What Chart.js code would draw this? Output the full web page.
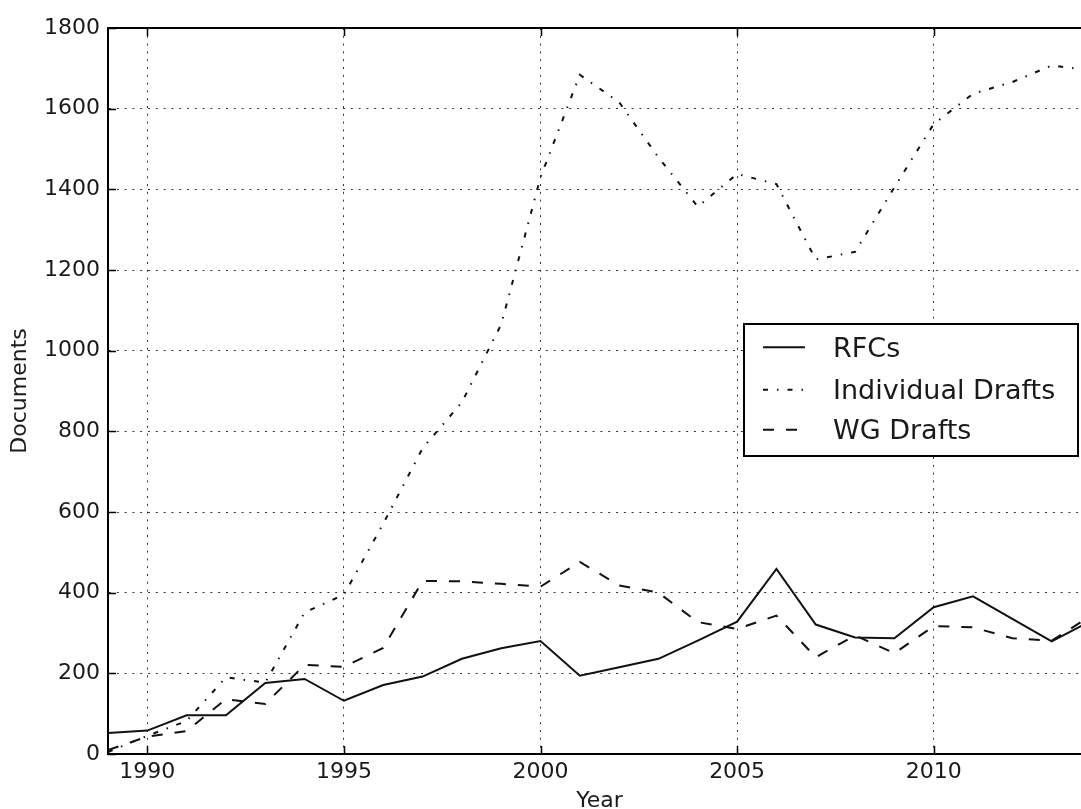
<!DOCTYPE html>
<html><head><meta charset="utf-8">
<script src="https://cdn.jsdelivr.net/npm/chart.js@4.4.0/dist/chart.umd.min.js"></script>
<style>
html,body{margin:0;padding:0;overflow:hidden;background:#fff;width:1081px;height:809px}
#wrap{position:absolute;left:0;top:0;width:1100px;height:809px}
</style></head>
<body><div id="wrap"><canvas id="c" width="1100" height="809"></canvas></div>
<script>
const years = [1989,1990,1991,1992,1993,1994,1995,1996,1997,1998,1999,2000,2001,2002,2003,2004,2005,2006,2007,2008,2009,2010,2011,2012,2013,2014];
const rfcs = [52,58,96,96,176,186,132,171,192,236,262,280,194,215,236,281,328,459,321,289,287,364,391,335,279,330];
const individualDrafts = [5,45,82,190,177,351,395,571,758,872,1065,1430,1684,1616,1479,1357,1438,1413,1226,1245,1405,1562,1637,1666,1707,1695];
const wgDrafts = [10,43,57,136,124,221,216,263,429,428,422,415,476,418,400,327,310,343,240,294,250,317,314,287,281,343];
const xTicks = [1990,1995,2000,2005,2010];
const yTicks = [0,200,400,600,800,1000,1200,1400,1600,1800];
const seriesNames = ['RFCs','Individual Drafts','WG Drafts'];

const FONT = 'DejaVu Sans';
const INK = '#1a1a1a';

function pts(vals){ return years.map((y,i)=>({x:y, y:vals[i]})); }

const framePlugin = {
  id:'frame',
  afterDraw(chart){
    const {ctx, chartArea:a, scales:{x, y}} = chart;
    ctx.save();
    ctx.strokeStyle = '#000';
    ctx.lineWidth = 2;
    ctx.beginPath();
    ctx.moveTo(a.left-1, a.top); ctx.lineTo(a.right+1, a.top);
    ctx.stroke();
    ctx.lineWidth = 1.5;
    ctx.beginPath();
    xTicks.forEach(v=>{
      const px = Math.round(x.getPixelForValue(v))+0.5;
      ctx.moveTo(px, a.bottom); ctx.lineTo(px, a.bottom-8);
      ctx.moveTo(px, a.top); ctx.lineTo(px, a.top+8);
    });
    yTicks.forEach(v=>{
      const py = Math.round(y.getPixelForValue(v))+0.5;
      ctx.moveTo(a.left, py); ctx.lineTo(a.left+8, py);
      ctx.moveTo(a.right, py); ctx.lineTo(a.right-8, py);
    });
    ctx.stroke();

    // legend
    const bx = 744, by = 324, bw = 334, bh = 132;
    ctx.fillStyle = '#fff';
    ctx.fillRect(bx, by, bw, bh);
    ctx.lineWidth = 2;
    ctx.strokeStyle = '#000';
    ctx.strokeRect(bx, by, bw, bh);
    const baselines = [356.7, 399.3, 439.3];
    chart.data.datasets.forEach((ds, i)=>{
      const ly = baselines[i] - 9.5;
      ctx.save();
      ctx.strokeStyle = ds.borderColor;
      ctx.lineWidth = ds.borderWidth;
      ctx.setLineDash(ds.borderDash || []);
      ctx.beginPath();
      ctx.moveTo(763, ly); ctx.lineTo(805, ly);
      ctx.stroke();
      ctx.restore();
      ctx.fillStyle = INK;
      ctx.font = '27px "' + FONT + '"';
      ctx.textBaseline = 'alphabetic';
      ctx.textAlign = 'left';
      ctx.fillText(ds.label, 833, baselines[i]);
    });
    ctx.restore();
  }
};

new Chart(document.getElementById('c'), {
  type:'line',
  data:{
    datasets:[
      {label:seriesNames[0], data:pts(rfcs), borderColor:'#111', borderWidth:2, borderDash:[], pointRadius:0, tension:0},
      {label:seriesNames[1], data:pts(individualDrafts), borderColor:'#111', borderWidth:2, borderDash:[5,9,1.5,9], pointRadius:0, tension:0},
      {label:seriesNames[2], data:pts(wgDrafts), borderColor:'#111', borderWidth:2, borderDash:[11,12], pointRadius:0, tension:0}
    ]
  },
  options:{
    responsive:false,
    animation:false,
    devicePixelRatio:1,
    layout:{padding:{top:28, right:9, left:0, bottom:0}},
    plugins:{legend:{display:false}, tooltip:{enabled:false}},
    scales:{
      x:{
        type:'linear', min:1989, max:2014, position:'bottom',
        afterBuildTicks:s=>{ s.ticks = xTicks.map(v=>({value:v})); },
        afterFit:s=>{ s.height = 55; },
        ticks:{font:{family:FONT, size:22}, color:INK, padding:5, maxRotation:0, autoSkip:false, callback:v=>String(v)},
        grid:{color:'#333', lineWidth:1, drawTicks:false},
        border:{display:true, color:'#000', width:2, dash:[2,5.8]},
        title:{display:true, text:'Year', color:INK, font:{family:FONT, size:22, lineHeight:1}, padding:{top:0, bottom:-3.5}}
      },
      y:{
        type:'linear', min:0, max:1800, position:'left',
        afterBuildTicks:s=>{ s.ticks = yTicks.map(v=>({value:v})); },
        afterFit:s=>{ s.width = 108; },
        ticks:{font:{family:FONT, size:22}, color:INK, padding:8, autoSkip:false, callback:v=>String(v)},
        grid:{color:'#333', lineWidth:1, drawTicks:false},
        border:{display:true, color:'#000', width:2, dash:[2,5.8]},
        title:{display:true, text:'Documents', color:INK, font:{family:FONT, size:22, lineHeight:1}, padding:{top:9, bottom:0}}
      }
    }
  },
  plugins:[framePlugin]
});
</script>
</body></html>
